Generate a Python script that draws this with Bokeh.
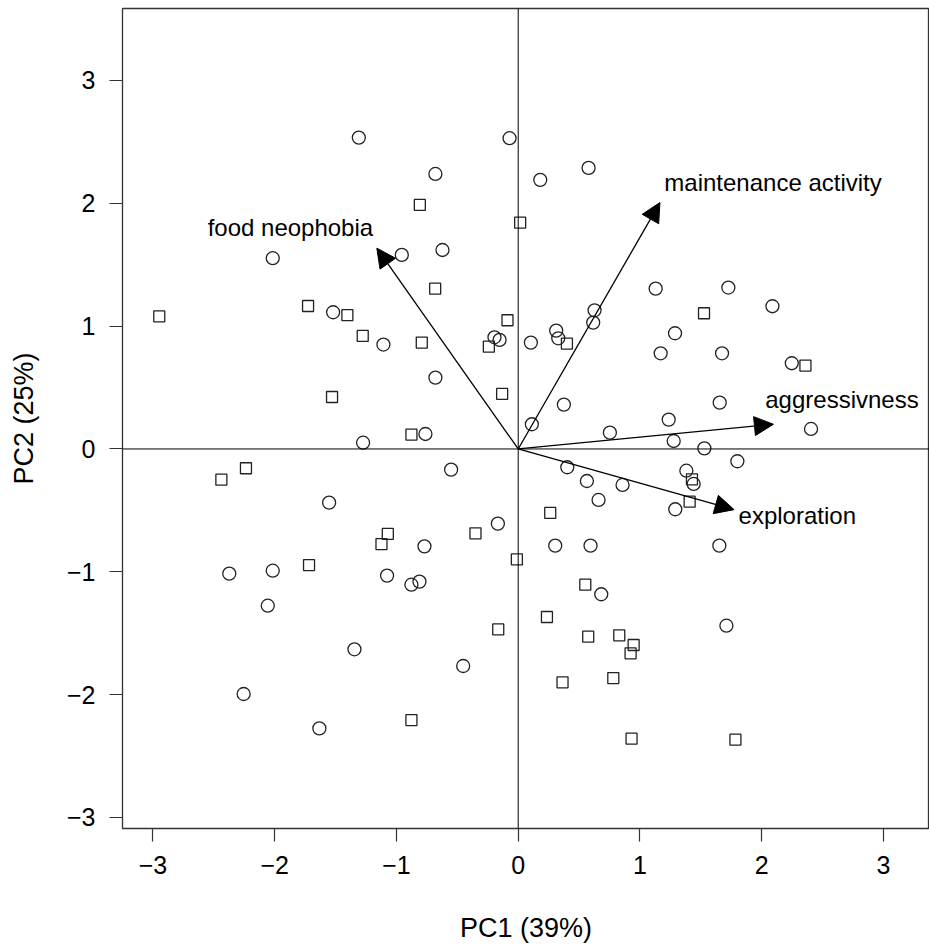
from bokeh.plotting import figure
from bokeh.models import Range1d, Span, Arrow, NormalHead, ColumnDataSource, FixedTicker
from bokeh.core.properties import value
from bokeh.embed import file_html
from bokeh.resources import INLINE

# --- data ---
circle_x = [-1.309, -0.071, -0.680, -2.016, -0.956, -0.622, -1.520, -1.107, -0.195, -0.153, -0.680, -0.762, -1.274,
            0.181, 0.578, 1.129, 1.726, 2.088, 0.627, 0.616, 0.312, 0.329, 0.104, 1.288, 1.170, 1.674, 2.247, 0.375,
            1.655, 0.112, 1.236, 2.405, 0.753, 1.277, 1.529,
            -0.551, -1.553, -0.167, -0.770, -2.373, -2.016, -1.077, -0.877, -0.811, -2.057, -1.345, -0.452, -2.255, -1.633,
            1.800, 0.403, 0.564, 0.857, 0.660, 1.381, 1.441, 1.290, 0.304, 0.594, 1.652, 0.682, 1.710]
circle_y = [2.535, 2.530, 2.239, 1.553, 1.580, 1.620, 1.113, 0.850, 0.909, 0.888, 0.581, 0.122, 0.051,
            2.191, 2.288, 1.305, 1.314, 1.162, 1.129, 1.029, 0.963, 0.901, 0.866, 0.942, 0.779, 0.779, 0.698, 0.361,
            0.377, 0.201, 0.239, 0.163, 0.133, 0.065, 0.005,
            -0.168, -0.437, -0.608, -0.793, -1.015, -0.991, -1.031, -1.105, -1.080, -1.276, -1.631, -1.767, -1.995, -2.275,
            -0.100, -0.149, -0.261, -0.293, -0.415, -0.177, -0.285, -0.491, -0.787, -0.787, -0.787, -1.183, -1.439]

square_x = [-0.808, 0.016, -0.682, -2.948, -1.726, -1.403, -1.277, -0.792, -0.088, -0.241, -1.529, -0.132, -0.877,
            1.526, 0.400, 2.359,
            -2.438, -2.236, -0.351, -1.071, -1.123, -0.011, -1.718, -0.164, -0.877,
            1.427, 1.408, 0.263, 0.551, 0.236, 0.575, 0.830, 0.948, 0.923, 0.364, 0.781, 0.931, 1.784]
square_y = [1.987, 1.843, 1.305, 1.080, 1.164, 1.089, 0.920, 0.866, 1.048, 0.833, 0.423, 0.448, 0.117,
            1.105, 0.858, 0.679,
            -0.250, -0.157, -0.687, -0.692, -0.774, -0.899, -0.945, -1.469, -2.207,
            -0.247, -0.429, -0.521, -1.105, -1.368, -1.528, -1.517, -1.596, -1.664, -1.900, -1.865, -2.359, -2.367]

var_names = ["food neophobia", "maintenance activity", "aggressivness", "exploration"]
arrow_x = [-1.161, 1.164, 2.096, 1.773]
arrow_y = [1.635, 2.006, 0.201, -0.494]
label_x = [-1.871, 2.093, 2.659, 2.292]
label_y = [1.803, 2.170, 0.399, -0.541]

ticks = [-3, -2, -1, 0, 1, 2, 3]
tick_labels = ["\u22123", "\u22122", "\u22121", "0", "1", "2", "3"]
x_title = "PC1 (39%)"
y_title = "PC2 (25%)"

FONT = "Liberation Sans"
INK = "#222222"

p = figure(width=929, height=945,
           x_range=Range1d(-3.250, 3.378), y_range=Range1d(-3.090, 3.586),
           output_backend="svg", toolbar_location=None,
           min_border_left=122, min_border_right=0, min_border_top=8, min_border_bottom=117)
p.xgrid.visible = False
p.ygrid.visible = False
p.outline_line_color = "#333333"
p.outline_line_width = 1.3
p.background_fill_color = "white"
p.border_fill_color = "white"

for ax in (p.xaxis, p.yaxis):
    ax.ticker = FixedTicker(ticks=ticks)
    ax.major_label_overrides = dict(zip(ticks, tick_labels))
    ax.minor_tick_line_color = None
    ax.axis_line_color = None
    ax.major_tick_out = 13
    ax.major_tick_in = 0
    ax.major_tick_line_color = "#333333"
    ax.major_tick_line_width = 1.2
    ax.major_label_standoff = 14
    ax.major_label_text_font = FONT
    ax.major_label_text_font_size = "25px"
    ax.major_label_text_color = "black"
    ax.axis_label_text_font = FONT
    ax.axis_label_text_font_size = "27px"
    ax.axis_label_text_font_style = "normal"
    ax.axis_label_text_color = "black"

p.xaxis.axis_label = x_title
p.yaxis.axis_label = y_title
p.xaxis.axis_label_standoff = 36
p.yaxis.axis_label_standoff = 25
p.yaxis.major_label_orientation = "horizontal"

p.add_layout(Span(location=0, dimension="height", line_color="black", line_width=1))
p.add_layout(Span(location=0, dimension="width", line_color="black", line_width=1))

p.scatter(circle_x, circle_y, marker="circle", size=13, fill_color=None,
          line_color=INK, line_width=1.3)
p.scatter(square_x, square_y, marker="square", size=11, fill_color=None,
          line_color=INK, line_width=1.3)

arrow_src = ColumnDataSource(dict(x0=[0] * len(arrow_x), y0=[0] * len(arrow_y), x1=arrow_x, y1=arrow_y))
p.add_layout(Arrow(end=NormalHead(size=19, fill_color="black", fill_alpha=1.0,
                                  line_color="black", line_width=1),
                   source=arrow_src, x_start="x0", y_start="y0", x_end="x1", y_end="y1",
                   line_color="black", line_width=1.3))

p.text(x=label_x, y=label_y, text=var_names, text_font=value(FONT), text_font_size="24px",
       text_align="center", text_baseline="middle", text_color="black")

open("out.html", "w").write(file_html(p, INLINE))
